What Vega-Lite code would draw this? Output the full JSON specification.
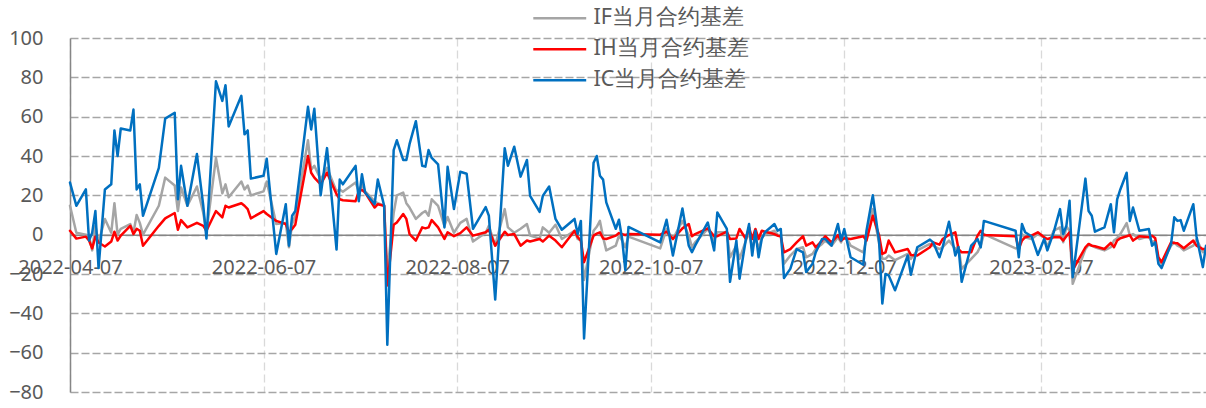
{
  "$schema": "https://vega.github.io/schema/vega-lite/v6.json",
  "width": 1136,
  "height": 354,
  "autosize": "none",
  "padding": {"left": 70, "top": 38, "right": 0, "bottom": 16},
  "background": "white",
  "config": {"view": {"stroke": null}},
  "data": {"values": [
    {"d":"2022-04-07","IF":14.7,"IH":2,"IC":26.5},
    {"d":"2022-04-09","IF":1,"IH":-2,"IC":14.7},
    {"d":"2022-04-12","IF":0,"IH":-1,"IC":23},
    {"d":"2022-04-13","IF":-1,"IH":-3,"IC":-3},
    {"d":"2022-04-14","IF":-8,"IH":-7,"IC":1},
    {"d":"2022-04-15","IF":4.5,"IH":-1,"IC":12},
    {"d":"2022-04-16","IF":-4,"IH":-4,"IC":-17},
    {"d":"2022-04-18","IF":8,"IH":-6,"IC":23},
    {"d":"2022-04-20","IF":1,"IH":-3.5,"IC":25.6},
    {"d":"2022-04-21","IF":16,"IH":1.5,"IC":53},
    {"d":"2022-04-22","IF":0,"IH":-3,"IC":40},
    {"d":"2022-04-23","IF":3,"IH":-0.5,"IC":54},
    {"d":"2022-04-26","IF":5.4,"IH":4.5,"IC":53},
    {"d":"2022-04-27","IF":1,"IH":0.3,"IC":63.6},
    {"d":"2022-04-28","IF":10,"IH":3,"IC":23},
    {"d":"2022-04-29","IF":6,"IH":2,"IC":25.6},
    {"d":"2022-04-30","IF":0,"IH":-5.6,"IC":9.6},
    {"d":"2022-05-05","IF":14.7,"IH":4.5,"IC":34},
    {"d":"2022-05-07","IF":29,"IH":8.3,"IC":59},
    {"d":"2022-05-10","IF":25,"IH":11,"IC":62},
    {"d":"2022-05-11","IF":12,"IH":2.5,"IC":18},
    {"d":"2022-05-12","IF":24,"IH":7.4,"IC":35},
    {"d":"2022-05-14","IF":14.7,"IH":3.7,"IC":14.7},
    {"d":"2022-05-17","IF":24.5,"IH":6,"IC":41},
    {"d":"2022-05-19","IF":11,"IH":4.5,"IC":14.7},
    {"d":"2022-05-20","IF":1,"IH":2,"IC":-2},
    {"d":"2022-05-23","IF":39,"IH":12,"IC":78},
    {"d":"2022-05-25","IF":21,"IH":8.8,"IC":68},
    {"d":"2022-05-26","IF":25.6,"IH":14.7,"IC":76},
    {"d":"2022-05-27","IF":19,"IH":13.8,"IC":55},
    {"d":"2022-05-31","IF":27,"IH":16,"IC":70.6},
    {"d":"2022-06-01","IF":23,"IH":14.7,"IC":51},
    {"d":"2022-06-02","IF":25,"IH":13,"IC":53},
    {"d":"2022-06-03","IF":20,"IH":8.3,"IC":28.5},
    {"d":"2022-06-07","IF":22,"IH":12,"IC":30},
    {"d":"2022-06-08","IF":27,"IH":10.5,"IC":38.6},
    {"d":"2022-06-11","IF":5.4,"IH":7,"IC":-9.8},
    {"d":"2022-06-14","IF":6,"IH":5.4,"IC":15.5},
    {"d":"2022-06-15","IF":-6.4,"IH":1.2,"IC":-5.6},
    {"d":"2022-06-16","IF":5.4,"IH":2.9,"IC":9.6},
    {"d":"2022-06-17","IF":9.6,"IH":5,"IC":12},
    {"d":"2022-06-21","IF":48,"IH":40,"IC":65},
    {"d":"2022-06-22","IF":33,"IH":31.5,"IC":53.5},
    {"d":"2022-06-23","IF":35,"IH":29,"IC":64},
    {"d":"2022-06-25","IF":28,"IH":25.6,"IC":20},
    {"d":"2022-06-27","IF":34,"IH":31.5,"IC":44},
    {"d":"2022-06-30","IF":22,"IH":20.6,"IC":-7.6},
    {"d":"2022-07-01","IF":23,"IH":18,"IC":28},
    {"d":"2022-07-02","IF":21.8,"IH":17.5,"IC":25.6},
    {"d":"2022-07-06","IF":26.5,"IH":17,"IC":35},
    {"d":"2022-07-07","IF":22,"IH":22,"IC":17},
    {"d":"2022-07-08","IF":25.6,"IH":22.8,"IC":30.7},
    {"d":"2022-07-09","IF":22,"IH":21.4,"IC":21.4},
    {"d":"2022-07-12","IF":17,"IH":13.8,"IC":15.5},
    {"d":"2022-07-13","IF":16,"IH":15.5,"IC":28},
    {"d":"2022-07-15","IF":14.7,"IH":14.7,"IC":14.7},
    {"d":"2022-07-16","IF":-19,"IH":-25.8,"IC":-56},
    {"d":"2022-07-18","IF":11,"IH":5,"IC":43},
    {"d":"2022-07-19","IF":20,"IH":6.2,"IC":48},
    {"d":"2022-07-21","IF":21.4,"IH":10.5,"IC":38},
    {"d":"2022-07-22","IF":16,"IH":8,"IC":38},
    {"d":"2022-07-23","IF":13.8,"IH":0.3,"IC":46},
    {"d":"2022-07-25","IF":8,"IH":-3,"IC":57.7},
    {"d":"2022-07-27","IF":11,"IH":3.7,"IC":35},
    {"d":"2022-07-28","IF":12,"IH":3.2,"IC":34.6},
    {"d":"2022-07-29","IF":9.6,"IH":3.7,"IC":43},
    {"d":"2022-07-30","IF":18,"IH":7.4,"IC":39},
    {"d":"2022-08-01","IF":14.7,"IH":3.7,"IC":35.7},
    {"d":"2022-08-03","IF":4.5,"IH":-2.2,"IC":3.7},
    {"d":"2022-08-04","IF":9,"IH":1.2,"IC":34.5},
    {"d":"2022-08-06","IF":1,"IH":-0.8,"IC":13},
    {"d":"2022-08-08","IF":6,"IH":0.8,"IC":32},
    {"d":"2022-08-10","IF":8,"IH":3.7,"IC":31},
    {"d":"2022-08-12","IF":-3.5,"IH":-0.5,"IC":3},
    {"d":"2022-08-16","IF":1,"IH":1.2,"IC":14},
    {"d":"2022-08-17","IF":4.5,"IH":2.5,"IC":9.6},
    {"d":"2022-08-19","IF":-5.6,"IH":-5.6,"IC":-33},
    {"d":"2022-08-22","IF":13,"IH":1.5,"IC":44},
    {"d":"2022-08-23","IF":3.7,"IH":-0.2,"IC":35},
    {"d":"2022-08-25","IF":1,"IH":0.3,"IC":44.7},
    {"d":"2022-08-27","IF":3,"IH":-5.6,"IC":29.5},
    {"d":"2022-08-29","IF":5.4,"IH":-3,"IC":38},
    {"d":"2022-08-30","IF":-0.5,"IH":-3.5,"IC":19.7},
    {"d":"2022-09-02","IF":-2,"IH":-2.2,"IC":11.6},
    {"d":"2022-09-03","IF":3.7,"IH":-3.5,"IC":19.7},
    {"d":"2022-09-05","IF":1,"IH":-0.5,"IC":24.5},
    {"d":"2022-09-07","IF":5,"IH":-3,"IC":8},
    {"d":"2022-09-09","IF":-2.2,"IH":-6.4,"IC":2.5},
    {"d":"2022-09-13","IF":2,"IH":2,"IC":8},
    {"d":"2022-09-14","IF":-2.2,"IH":-1.3,"IC":0.3},
    {"d":"2022-09-15","IF":-3,"IH":-3,"IC":7},
    {"d":"2022-09-16","IF":-23,"IH":-14,"IC":-52.8},
    {"d":"2022-09-19","IF":2,"IH":-0.5,"IC":36.6},
    {"d":"2022-09-20","IF":4,"IH":0.5,"IC":40},
    {"d":"2022-09-21","IF":7,"IH":1.2,"IC":30},
    {"d":"2022-09-22","IF":-1.3,"IH":-1.9,"IC":28},
    {"d":"2022-09-23","IF":-8,"IH":-2.2,"IC":16.4},
    {"d":"2022-09-26","IF":-5.6,"IH":-0.5,"IC":3},
    {"d":"2022-09-27","IF":-0.5,"IH":0.8,"IC":7.6},
    {"d":"2022-09-28","IF":-3,"IH":0.3,"IC":-2.2},
    {"d":"2022-09-29","IF":-6.4,"IH":-0.2,"IC":-18},
    {"d":"2022-09-30","IF":-1,"IH":0.3,"IC":3.9},
    {"d":"2022-10-10","IF":-7,"IH":0,"IC":-3.9},
    {"d":"2022-10-12","IF":2.9,"IH":1.5,"IC":7.6},
    {"d":"2022-10-14","IF":-2.2,"IH":-2.2,"IC":-10.6},
    {"d":"2022-10-17","IF":7,"IH":3.2,"IC":13.3},
    {"d":"2022-10-19","IF":-0.5,"IH":5.4,"IC":-5.6},
    {"d":"2022-10-20","IF":-6.4,"IH":-0.8,"IC":-8.9},
    {"d":"2022-10-21","IF":-3.9,"IH":0.3,"IC":-5.6},
    {"d":"2022-10-25","IF":2.9,"IH":3.2,"IC":6.2},
    {"d":"2022-10-27","IF":-3,"IH":-0.8,"IC":-8},
    {"d":"2022-10-28","IF":1.2,"IH":-0.8,"IC":11.3},
    {"d":"2022-10-31","IF":1.2,"IH":1.5,"IC":2.9},
    {"d":"2022-11-01","IF":-11.5,"IH":-2.2,"IC":-24},
    {"d":"2022-11-03","IF":-5.6,"IH":-1.9,"IC":-3},
    {"d":"2022-11-04","IF":-12.3,"IH":2.9,"IC":-22.4},
    {"d":"2022-11-06","IF":-3,"IH":-2.2,"IC":-2.2},
    {"d":"2022-11-07","IF":1.2,"IH":3.7,"IC":5.4},
    {"d":"2022-11-08","IF":-7.3,"IH":-2.2,"IC":-10.6},
    {"d":"2022-11-09","IF":-1.3,"IH":2.9,"IC":2},
    {"d":"2022-11-10","IF":-7.3,"IH":-2.2,"IC":-11.5},
    {"d":"2022-11-11","IF":-1.3,"IH":2,"IC":-2.2},
    {"d":"2022-11-12","IF":0,"IH":1.5,"IC":1.2},
    {"d":"2022-11-15","IF":2,"IH":0.3,"IC":5.4},
    {"d":"2022-11-16","IF":0,"IH":-0.5,"IC":2},
    {"d":"2022-11-17","IF":-0.8,"IH":-0.8,"IC":2.9},
    {"d":"2022-11-18","IF":-14.8,"IH":-9,"IC":-22},
    {"d":"2022-11-20","IF":-10.6,"IH":-7.3,"IC":-17.4},
    {"d":"2022-11-22","IF":-7.3,"IH":-3.9,"IC":-7.3},
    {"d":"2022-11-24","IF":-6.4,"IH":-0.8,"IC":-9},
    {"d":"2022-11-25","IF":-11.5,"IH":-5.6,"IC":-19},
    {"d":"2022-11-27","IF":-9.8,"IH":-3.9,"IC":-14.8},
    {"d":"2022-11-28","IF":-7.3,"IH":-6.4,"IC":-9},
    {"d":"2022-11-30","IF":-4.7,"IH":-3,"IC":-2.2},
    {"d":"2022-12-01","IF":-3,"IH":-0.8,"IC":-2.2},
    {"d":"2022-12-03","IF":-5.6,"IH":-3.9,"IC":-5.6},
    {"d":"2022-12-05","IF":-1.3,"IH":-0.2,"IC":5.4},
    {"d":"2022-12-06","IF":-3.9,"IH":-3,"IC":-3},
    {"d":"2022-12-07","IF":0.5,"IH":-1.8,"IC":2.9},
    {"d":"2022-12-09","IF":-5.6,"IH":-2.2,"IC":-11.5},
    {"d":"2022-12-13","IF":-9,"IH":-0.8,"IC":-15.3},
    {"d":"2022-12-14","IF":-2.2,"IH":-3,"IC":2},
    {"d":"2022-12-16","IF":13,"IH":9.6,"IC":20},
    {"d":"2022-12-18","IF":-4.7,"IH":-0.5,"IC":-3.9},
    {"d":"2022-12-19","IF":-12.3,"IH":-9.8,"IC":-35},
    {"d":"2022-12-20","IF":-12.3,"IH":-9,"IC":-20},
    {"d":"2022-12-21","IF":-10.6,"IH":-3,"IC":-20.7},
    {"d":"2022-12-23","IF":-13,"IH":-9,"IC":-28.3},
    {"d":"2022-12-27","IF":-9.8,"IH":-7.3,"IC":-10.6},
    {"d":"2022-12-28","IF":-12.3,"IH":-10.3,"IC":-20.4},
    {"d":"2022-12-30","IF":-8,"IH":-10.6,"IC":-6.4},
    {"d":"2023-01-03","IF":-4.7,"IH":-6.4,"IC":-2.5},
    {"d":"2023-01-04","IF":-5.6,"IH":-3.9,"IC":-3.9},
    {"d":"2023-01-06","IF":-7.3,"IH":-5.1,"IC":-11.5},
    {"d":"2023-01-07","IF":-6.4,"IH":-2.2,"IC":-6.4},
    {"d":"2023-01-09","IF":-3,"IH":-0.2,"IC":6.6},
    {"d":"2023-01-11","IF":-7.3,"IH":1.2,"IC":-10.6},
    {"d":"2023-01-12","IF":-6,"IH":-7.3,"IC":-6.4},
    {"d":"2023-01-13","IF":-17.4,"IH":-9,"IC":-24},
    {"d":"2023-01-16","IF":-12.3,"IH":-9,"IC":-5.6},
    {"d":"2023-01-18","IF":-8.9,"IH":-0.5,"IC":-2.2},
    {"d":"2023-01-19","IF":-5.6,"IH":2,"IC":-6.4},
    {"d":"2023-01-20","IF":0.3,"IH":-0.2,"IC":7},
    {"d":"2023-01-30","IF":-7,"IH":-0.8,"IC":2},
    {"d":"2023-01-31","IF":-6.4,"IH":-7.3,"IC":-11.5},
    {"d":"2023-02-01","IF":0.3,"IH":-3,"IC":5.4},
    {"d":"2023-02-02","IF":-1.3,"IH":-1.3,"IC":1.2},
    {"d":"2023-02-04","IF":-2.2,"IH":-0.5,"IC":-0.8},
    {"d":"2023-02-06","IF":0.3,"IH":1.2,"IC":-10.3},
    {"d":"2023-02-08","IF":-1.3,"IH":-1.3,"IC":-2.2},
    {"d":"2023-02-09","IF":-6.4,"IH":-2.2,"IC":-8},
    {"d":"2023-02-11","IF":2,"IH":-1.3,"IC":1.2},
    {"d":"2023-02-13","IF":3.7,"IH":-1.3,"IC":13},
    {"d":"2023-02-14","IF":-3.9,"IH":-3,"IC":0.3},
    {"d":"2023-02-15","IF":4.2,"IH":-0.8,"IC":4.5},
    {"d":"2023-02-16","IF":2,"IH":1.2,"IC":17.2},
    {"d":"2023-02-17","IF":-25,"IH":-18,"IC":-21.6},
    {"d":"2023-02-21","IF":-7.3,"IH":-6.4,"IC":28.5},
    {"d":"2023-02-22","IF":-5.2,"IH":-4.7,"IC":12},
    {"d":"2023-02-23","IF":-5.6,"IH":-5.6,"IC":9.6},
    {"d":"2023-02-24","IF":-6.4,"IH":-5.9,"IC":1.5},
    {"d":"2023-02-27","IF":-8,"IH":-7.3,"IC":3.7},
    {"d":"2023-03-01","IF":-6.4,"IH":-4.2,"IC":15.5},
    {"d":"2023-03-02","IF":-3,"IH":-6.4,"IC":1.2},
    {"d":"2023-03-03","IF":-1.8,"IH":-3,"IC":18},
    {"d":"2023-03-04","IF":0.3,"IH":-1.8,"IC":23},
    {"d":"2023-03-06","IF":5.9,"IH":-0.8,"IC":31.5},
    {"d":"2023-03-07","IF":-0.5,"IH":-0.2,"IC":7},
    {"d":"2023-03-08","IF":0.3,"IH":-3,"IC":13.8},
    {"d":"2023-03-10","IF":-2.2,"IH":-0.8,"IC":2},
    {"d":"2023-03-13","IF":-0.8,"IH":-1.3,"IC":2.9},
    {"d":"2023-03-14","IF":-3.9,"IH":-0.5,"IC":-5.6},
    {"d":"2023-03-15","IF":-3,"IH":-1.8,"IC":-3.9},
    {"d":"2023-03-16","IF":-13,"IH":-11.5,"IC":-14.8},
    {"d":"2023-03-17","IF":-14.8,"IH":-14,"IC":-17},
    {"d":"2023-03-20","IF":-5.6,"IH":-3.9,"IC":-4.7},
    {"d":"2023-03-21","IF":-3.9,"IH":-4.2,"IC":8.8},
    {"d":"2023-03-22","IF":-5.6,"IH":-4.4,"IC":7},
    {"d":"2023-03-23","IF":-6.4,"IH":-5.6,"IC":7.4},
    {"d":"2023-03-24","IF":-8,"IH":-6.9,"IC":2},
    {"d":"2023-03-27","IF":-5.6,"IH":-3,"IC":15.5},
    {"d":"2023-03-28","IF":-2.2,"IH":-5.6,"IC":-0.8},
    {"d":"2023-03-30","IF":-8.9,"IH":-7.3,"IC":-16.5},
    {"d":"2023-03-31","IF":-7.3,"IH":-7.3,"IC":-5.6}
  ]},
  "transform": [{"fold": ["IF", "IH", "IC"], "as": ["s", "v"]}],
  "mark": {"type": "line", "strokeWidth": 2.5, "strokeJoin": "round", "strokeCap": "round"},
  "encoding": {
    "x": {
      "field": "d", "type": "temporal",
      "scale": {"type": "utc", "domain": [{"year": 2022, "month": 4, "date": 7, "utc": true}, {"year": 2023, "month": 3, "date": 31, "utc": true}]},
      "axis": {
        "title": null,
        "values": [
          {"year": 2022, "month": 4, "date": 7, "utc": true},
          {"year": 2022, "month": 6, "date": 7, "utc": true},
          {"year": 2022, "month": 8, "date": 7, "utc": true},
          {"year": 2022, "month": 10, "date": 7, "utc": true},
          {"year": 2022, "month": 12, "date": 7, "utc": true},
          {"year": 2023, "month": 2, "date": 7, "utc": true}
        ],
        "format": "%Y-%m-%d",
        "grid": true, "gridColor": "#D9D9D9", "gridDash": [8, 4], "gridWidth": 1.3,
        "domainColor": "#868686", "domainWidth": 1.5,
        "ticks": false, "offset": -157.33,
        "labelFont": "Noto Sans", "labelFontSize": 20, "labelColor": "#595959",
        "labelPadding": 23, "labelFlush": false, "labelOverlap": false
      }
    },
    "y": {
      "field": "v", "type": "quantitative",
      "scale": {"domain": [-80, 100], "nice": false, "zero": false},
      "axis": {
        "title": null,
        "values": [-80, -60, -40, -20, 0, 20, 40, 60, 80, 100],
        "grid": true, "gridColor": "#A6A6A6", "gridDash": [8, 3], "gridWidth": 1.3,
        "domainColor": "#868686", "domainWidth": 1.5,
        "ticks": false,
        "labelFont": "Noto Sans", "labelFontSize": 20, "labelColor": "#595959",
        "labelPadding": 27
      }
    },
    "color": {
      "field": "s", "type": "nominal",
      "scale": {"domain": ["IF", "IH", "IC"], "range": ["#A5A5A5", "#FF0000", "#0070C0"]},
      "legend": {
        "title": null, "orient": "none", "legendX": 479, "legendY": -30.5,
        "direction": "vertical", "padding": 0,
        "symbolType": "M-5,0H5", "symbolSize": 112, "symbolStrokeWidth": 2.5,
        "labelOffset": 23, "labelFont": "Noto Sans", "labelFontSize": 21.5, "labelColor": "#595959",
        "labelLimit": 400, "rowPadding": 8,
        "labelExpr": "datum.label + '当月合约基差'"
      }
    }
  }
}
